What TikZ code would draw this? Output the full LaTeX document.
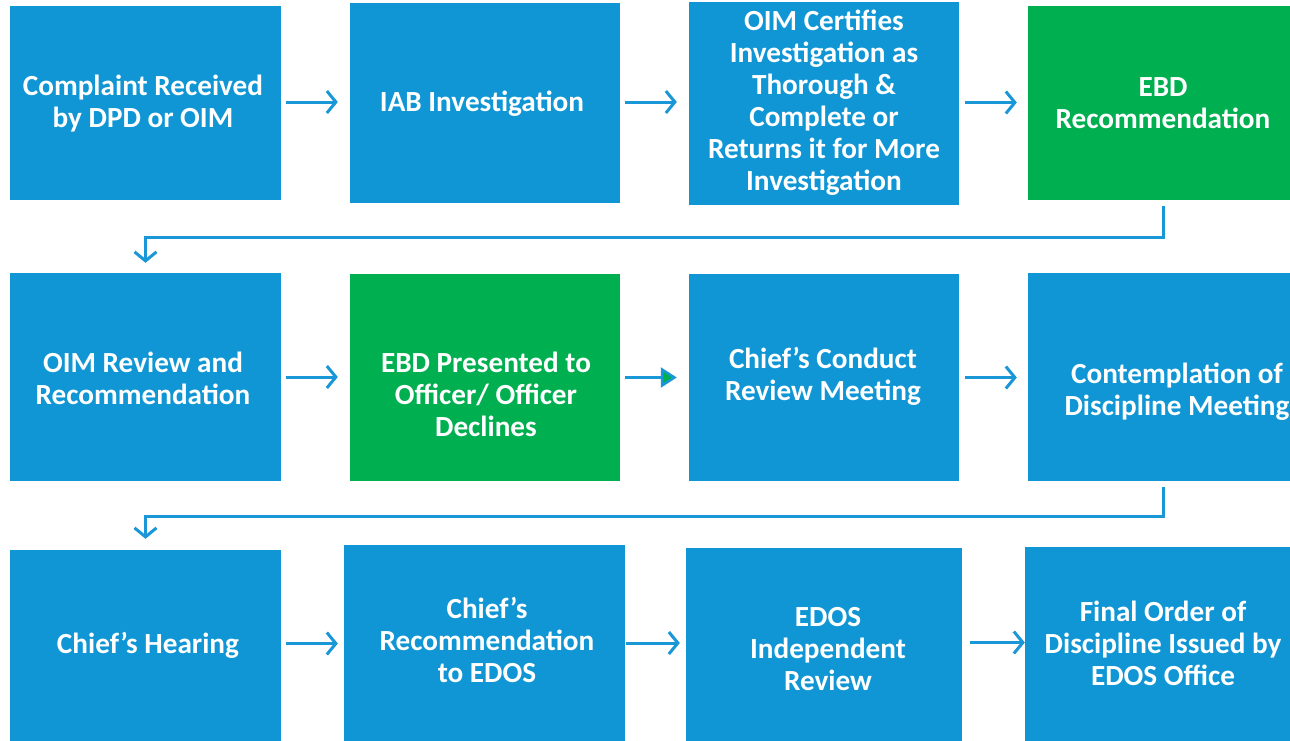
\documentclass[tikz,border=0pt]{standalone}
\usepackage{fontspec}
\setmainfont{Carlito}
\usetikzlibrary{arrows.meta}
\definecolor{boxblue}{HTML}{1096D4}
\definecolor{boxgreen}{HTML}{00B050}
\definecolor{lineblue}{HTML}{1A97D6}
\tikzset{
  box/.style={rectangle, inner sep=0pt, draw=none, fill=#1},
  txt/.style={inner sep=0pt, text=white, align=center, font=\fontsize{29.2}{32}\selectfont\bfseries},
  conn/.style={draw=lineblue, line width=3pt, -{Straight Barb[length=9pt,width=22pt]}},
  connfill/.style={draw=lineblue, line width=2.5pt, -{Triangle[length=16pt,width=20pt,fill=boxgreen]}}
}
\begin{document}
\begin{tikzpicture}[x=1pt,y=-1pt]
\useasboundingbox (0,0) rectangle (1290,740);
\fill[white] (0,0) rectangle (1290,740);
% row 1
\node[box=boxblue, minimum width=271pt, minimum height=194pt] (b1) at (145.5,103) {};
\node[box=boxblue, minimum width=270pt, minimum height=200pt] (b2) at (485,103) {};
\node[box=boxblue, minimum width=270pt, minimum height=203pt] (b3) at (824,103.5) {};
\node[box=boxgreen, minimum width=271pt, minimum height=194pt] (b4) at (1163.5,103) {};
% row 2
\node[box=boxblue, minimum width=271pt, minimum height=208pt] (b5) at (145.5,377) {};
\node[box=boxgreen, minimum width=270pt, minimum height=207pt] (b6) at (485,377.5) {};
\node[box=boxblue, minimum width=270pt, minimum height=207pt] (b7) at (824,377.5) {};
\node[box=boxblue, minimum width=271pt, minimum height=208pt] (b8) at (1163.5,377) {};
% row 3
\node[box=boxblue, minimum width=271pt, minimum height=195pt] (b9) at (145.5,647.5) {};
\node[box=boxblue, minimum width=281pt, minimum height=200pt] (b10) at (484.5,645) {};
\node[box=boxblue, minimum width=276pt, minimum height=197pt] (b11) at (824,646.5) {};
\node[box=boxblue, minimum width=275pt, minimum height=198pt] (b12) at (1162.5,646) {};
% texts
\node[txt] (t1) at (143,103.5) {Complaint Received\\by DPD or OIM};
\node[txt] (t2) at (482,103.5) {IAB Investigation};
\node[txt] (t3) at (824,102.5) {OIM Certifies\\Investigation as\\Thorough \&\\Complete or\\Returns it for More\\Investigation};
\node[txt] (t4) at (1163,103.5) {EBD\\Recommendation};
\node[txt] (t5) at (143,378.5) {OIM Review and\\Recommendation};
\node[txt] (t6) at (486,394.5) {EBD Presented to\\Officer/ Officer\\Declines};
\node[txt] (t7) at (823,376.5) {Chief’s Conduct\\Review Meeting};
\node[txt] (t8) at (1177,391.5) {Contemplation of\\Discipline Meeting};
\node[txt] (t9) at (148,645.5) {Chief’s Hearing};
\node[txt] (t10) at (487,639.5) {Chief’s\\Recommendation\\to EDOS};
\node[txt] (t11) at (828,649.5) {EDOS\\Independent\\Review};
\node[txt] (t12) at (1163,643.5) {Final Order of\\Discipline Issued by\\EDOS Office};
% row 1 arrows
\draw[conn, shorten <=5pt, shorten >=12pt] ([yshift=1pt]b1.east) -- ([yshift=1pt]b1.east -| b2.west);
\draw[conn, shorten <=5pt, shorten >=12pt] ([yshift=1pt]b2.east) -- ([yshift=1pt]b2.east -| b3.west);
\draw[conn, shorten <=6pt, shorten >=11pt] ([yshift=1pt]b3.east) -- ([yshift=1pt]b3.east -| b4.west);
% elbow 1
\draw[conn, shorten <=6pt, shorten >=10pt] (b4.south) -- ++(0,37) -| (b5.north);
% row 2 arrows
\draw[conn, shorten <=5pt, shorten >=12pt] (b5.east) -- (b5.east -| b6.west);
\draw[connfill, shorten <=5pt, shorten >=12pt] (b6.east) -- (b6.east -| b7.west);
\draw[conn, shorten <=6pt, shorten >=11pt] (b7.east) -- (b7.east -| b8.west);
% elbow 2
\draw[conn, shorten <=6pt, shorten >=11pt] (b8.south) -- ++(0,35) -| (b9.north);
% row 3 arrows
\draw[conn, shorten <=5pt, shorten >=6pt] ([yshift=4pt]b9.east) -- ([yshift=4pt]b9.east -| b10.west);
\draw[conn, shorten <=1pt, shorten >=6pt] ([yshift=2pt]b10.east) -- ([yshift=2pt]b10.east -| b11.west);
\draw[conn, shorten <=8pt, shorten >=0pt] ([yshift=4pt]b11.east) -- ([yshift=4pt]b11.east -| b12.west);
\end{tikzpicture}
\end{document}
